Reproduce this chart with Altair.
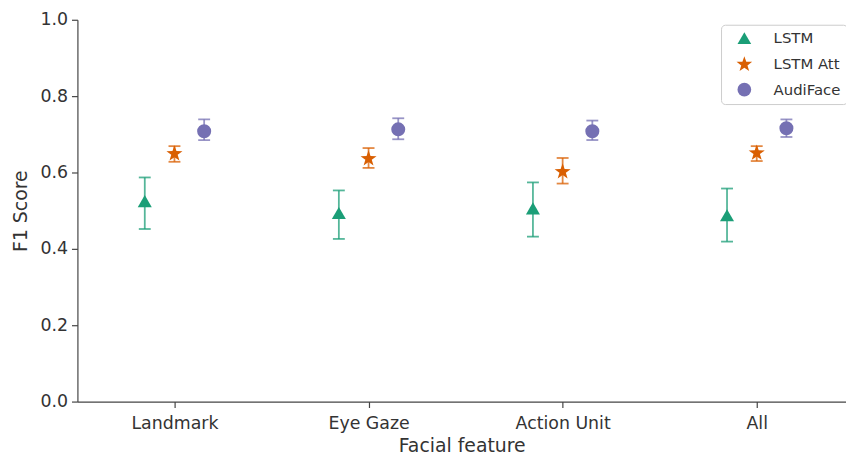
import altair as alt
import pandas as pd

categories = ["Landmark", "Eye Gaze", "Action Unit", "All"]
models = ["LSTM", "LSTM Att", "AudiFace"]

lstm_mean = [0.525, 0.494, 0.506, 0.488]
lstm_lo = [0.452, 0.426, 0.432, 0.419]
lstm_hi = [0.587, 0.553, 0.574, 0.558]

att_mean = [0.649, 0.636, 0.602, 0.651]
att_lo = [0.628, 0.612, 0.571, 0.630]
att_hi = [0.669, 0.664, 0.638, 0.669]

audi_mean = [0.708, 0.713, 0.708, 0.716]
audi_lo = [0.685, 0.687, 0.685, 0.693]
audi_hi = [0.739, 0.742, 0.736, 0.739]

colors = ["#1b9e77", "#d95f02", "#7570b3"]
star = ("M0,-1.2L0.282,-0.389L1.141,-0.371L0.456,0.149L0.705,0.971L0,0.48"
        "L-0.705,0.971L-0.456,0.149L-1.141,-0.371L-0.282,-0.389Z")
shapes = ["triangle-up", star, "circle"]
offsets = [-0.153, 0.0, 0.153]

rows = []
series = [(lstm_mean, lstm_lo, lstm_hi), (att_mean, att_lo, att_hi), (audi_mean, audi_lo, audi_hi)]
for mi, (m, (mean, lo, hi)) in enumerate(zip(models, series)):
    for ci, c in enumerate(categories):
        rows.append({"model": m, "category": c, "pos": ci + offsets[mi],
                     "mean": mean[ci], "lo": lo[ci], "hi": hi[ci]})
df = pd.DataFrame(rows)

label_expr = ("datum.value == 0 ? 'Landmark' : datum.value == 1 ? 'Eye Gaze' : "
              "datum.value == 2 ? 'Action Unit' : 'All'")

x = alt.X("pos:Q", scale=alt.Scale(domain=[-0.5, 3.46], nice=False, zero=False),
          axis=alt.Axis(values=[0, 1, 2, 3], labelExpr=label_expr, title="Facial feature",
                        grid=False))
y = alt.Y("mean:Q", scale=alt.Scale(domain=[0, 1], nice=False),
          axis=alt.Axis(values=[0, 0.2, 0.4, 0.6, 0.8, 1.0], format=".1f",
                        title="F1 Score", grid=False))

leg = alt.Legend(title=None, orient="none", legendX=649, legendY=5)
color = alt.Color("model:N", scale=alt.Scale(domain=models, range=colors), legend=leg)
shape = alt.Shape("model:N", scale=alt.Scale(domain=models, range=shapes), legend=leg)

base = alt.Chart(df)

bars = base.mark_rule(strokeWidth=1.8, opacity=0.75).encode(
    x=x, y=alt.Y("lo:Q"), y2="hi:Q", color=color)
caps_lo = base.mark_tick(orient="horizontal", size=12, thickness=1.8, opacity=0.75).encode(
    x=x, y=alt.Y("lo:Q"), color=color)
caps_hi = base.mark_tick(orient="horizontal", size=12, thickness=1.8, opacity=0.75).encode(
    x=x, y=alt.Y("hi:Q"), color=color)
points = base.mark_point(filled=True, opacity=1, size=200).encode(
    x=x, y=y, color=color, shape=shape)

chart = alt.layer(bars, caps_lo, caps_hi, points).properties(
    width=775, height=385,
    autosize=alt.AutoSizeParams(type="none"),
    padding={"left": 70, "top": 10, "right": 0, "bottom": 52},
).configure_view(stroke=None).configure_axis(
    domainColor="#444", tickColor="#444", labelColor="#333", titleColor="#333",
    labelFont="DejaVu Sans", titleFont="DejaVu Sans",
    labelFontSize=17.5, titleFontSize=19, titleFontWeight="normal",
    tickSize=6, labelPadding=4, domainWidth=1.2, tickWidth=1.2,
).configure_axisY(titlePadding=10).configure_axisX(titlePadding=5, labelPadding=7).configure_legend(
    labelFont="DejaVu Sans", labelFontSize=15, labelColor="#333",
    strokeColor="#ccc", fillColor="white", cornerRadius=4, padding=6,
    symbolSize=190, symbolOffset=10, labelOffset=22, rowPadding=9.5,
    symbolStrokeWidth=0, symbolOpacity=1,
)

chart.save("out.html", embed_options={"renderer": "svg", "actions": False})
